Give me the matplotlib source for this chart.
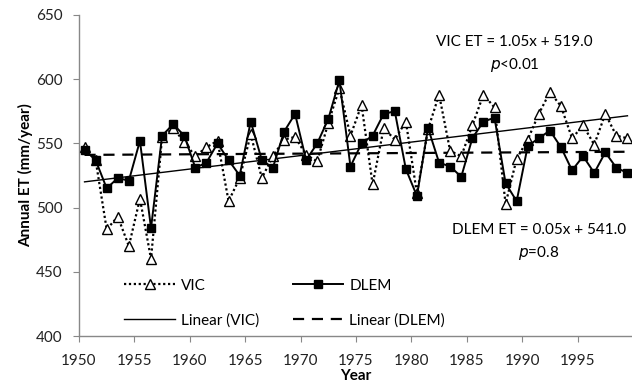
import numpy as np
import matplotlib
matplotlib.use("Agg")
import matplotlib.pyplot as plt

# annual ET, 1950-1999
years = np.arange(1950, 2000)
vic_et = [547, 537, 483, 493, 470, 507, 460, 555, 562, 551,
          540, 547, 552, 505, 523, 557, 523, 540, 553, 555,
          541, 536, 566, 593, 556, 580, 518, 562, 553, 567,
          511, 561, 588, 544, 540, 564, 588, 578, 503, 538,
          553, 573, 590, 579, 554, 564, 549, 573, 556, 554]
dlem_et = [545, 537, 515, 523, 521, 552, 484, 556, 565, 556,
           531, 535, 550, 537, 525, 567, 537, 531, 559, 573,
           537, 550, 569, 599, 532, 550, 556, 573, 575, 530,
           509, 562, 535, 532, 524, 554, 567, 570, 519, 505,
           548, 554, 560, 547, 529, 540, 527, 543, 531, 527]

# trend equations (x = 1..50)
vic_slope, vic_icpt = 1.05, 519.0
dlem_slope, dlem_icpt = 0.05, 541.0

plt.rcParams['font.family'] = ['Lato', 'DejaVu Sans']

fig = plt.figure(figsize=(6.32, 3.89), dpi=100)
ax = fig.add_axes([79 / 632, 53 / 389, 554 / 632, 321 / 389])

xpos = years + 0.5
idx = np.arange(1, len(years) + 1)

l_vic, = ax.plot(xpos, vic_et, color='black', linestyle=(0, (1, 1.2)), linewidth=1.6,
                 marker='^', markersize=6.5, markerfacecolor='white',
                 markeredgecolor='black', markeredgewidth=1.0, label='VIC', zorder=3)
l_dlem, = ax.plot(xpos, dlem_et, color='black', linestyle='-', linewidth=1.4,
                  marker='s', markersize=5.5, markerfacecolor='black',
                  markeredgecolor='black', label='DLEM', zorder=4)
t_vic, = ax.plot(xpos, vic_slope * idx + vic_icpt, color='black', linewidth=1.0,
                 label='Linear (VIC)', zorder=2)
t_dlem, = ax.plot(xpos, dlem_slope * idx + dlem_icpt, color='black', linewidth=1.6,
                  linestyle=(0, (5, 3.5)), label='Linear (DLEM)', zorder=2)

ax.set_xlim(1950, 2000)
ax.set_ylim(400, 650)
ax.set_xticks(np.arange(1950, 2000, 5))
ax.set_yticks(np.arange(400, 651, 50))

for side in ['top', 'right']:
    ax.spines[side].set_visible(False)
for side in ['left', 'bottom']:
    ax.spines[side].set_color('#888888')
    ax.spines[side].set_linewidth(1.0)
ax.tick_params(axis='both', direction='out', length=4, color='#888888',
               labelsize=11, labelcolor='#222222')
ax.tick_params(axis='x', pad=9)
ax.tick_params(axis='y', pad=8)

ax.set_xlabel('Year', fontsize=11, fontweight='bold', labelpad=1)
ax.set_ylabel('Annual ET (mm/year)', fontsize=11, fontweight='bold', labelpad=2)

ax.text(1989.3, 629, 'VIC ET = 1.05x + 519.0', fontsize=11, ha='center', va='center')
ax.text(1989.3, 611, '$\\it{p}$<0.01', fontsize=11, ha='center', va='center')
ax.text(1991.5, 482.5, 'DLEM ET = 0.05x + 541.0', fontsize=11, ha='center', va='center')
ax.text(1991.5, 464.5, '$\\it{p}$=0.8', fontsize=11, ha='center', va='center')

ax.legend([l_vic, t_vic, l_dlem, t_dlem],
          ['VIC', 'Linear (VIC)', 'DLEM', 'Linear (DLEM)'],
          loc='lower left', bbox_to_anchor=(0.057, -0.017), ncol=2, frameon=False,
          fontsize=11, handlelength=3.3, labelspacing=1.35, columnspacing=2.2,
          handletextpad=0.4)

fig.savefig('out.png', dpi=100)
